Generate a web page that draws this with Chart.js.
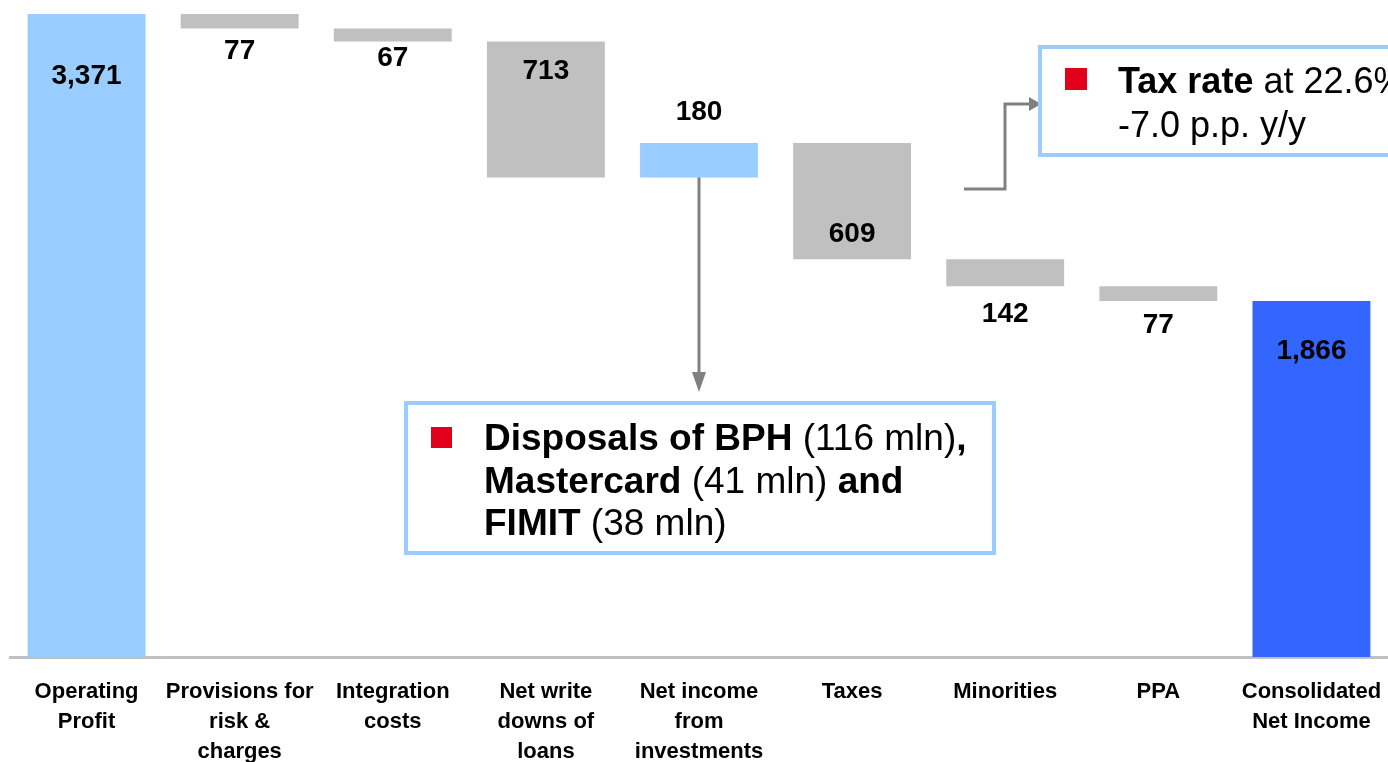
<!DOCTYPE html>
<html>
<head>
<meta charset="utf-8">
<title>Net income bridge</title>
<script src="https://cdn.jsdelivr.net/npm/chart.js@4.4.1/dist/chart.umd.min.js"></script>
<style>
  html, body { margin: 0; padding: 0; background: #ffffff; }
  #wrap { width: 1388px; height: 762px; position: relative; }
</style>
</head>
<body>
<div id="wrap"><canvas id="bridge"></canvas></div>
<script>
// Bridge from operating profit to consolidated net income (mln)
const categories = [
    ['Operating', 'Profit'],
    ['Provisions for', 'risk &', 'charges'],
    ['Integration', 'costs'],
    ['Net write', 'downs of', 'loans'],
    ['Net income', 'from', 'investments'],
    ['Taxes'],
    ['Minorities'],
    ['PPA'],
    ['Consolidated', 'Net Income']
];
// totals are absolute levels, the other entries are steps
const amounts = [3371, -77, -67, -713, 180, -609, -142, -77, 1866];
const isTotal = [true, false, false, false, false, false, false, false, true];

const FONT = '"Liberation Sans", Arial, Helvetica, sans-serif';
const LIGHT_BLUE = '#99ccff';
const DARK_BLUE = '#3366ff';
const GREY = '#c0c0c0';
const RED = '#e2001a';
const ARROW = '#808080';

// floating ranges for the waterfall
let level = 0;
const ranges = amounts.map((v, i) => {
    if (isTotal[i]) {
        level = v;
        return [0, v];
    }
    const from = level;
    level += v;
    return [from, level];
});

const colours = amounts.map((v, i) => {
    if (i === amounts.length - 1) return DARK_BLUE;
    if (isTotal[i] || v > 0) return LIGHT_BLUE;
    return GREY;
});

// where each value label sits: relative to bar top or bottom, shift in px
const labelEdge = ['top', 'bottom', 'bottom', 'top', 'top', 'bottom', 'bottom', 'bottom', 'top'];
const labelShift = [62, 23, 17, 30, -31, -25, 28, 24, 50];

const valueLabels = {
    id: 'valueLabels',
    afterDatasetsDraw(chart) {
        const ctx = chart.ctx;
        const bars = chart.getDatasetMeta(0).data;
        ctx.save();
        ctx.font = 'bold 28px ' + FONT;
        ctx.fillStyle = '#000';
        ctx.textAlign = 'center';
        ctx.textBaseline = 'middle';
        bars.forEach((bar, i) => {
            const top = Math.min(bar.y, bar.base);
            const bottom = Math.max(bar.y, bar.base);
            const y = (labelEdge[i] === 'top' ? top : bottom) + labelShift[i];
            ctx.fillText(Math.abs(amounts[i]).toLocaleString('en-US'), bar.x, y);
        });
        ctx.restore();
    }
};

function drawRuns(ctx, runs, x, y, size) {
    runs.forEach(([text, bold]) => {
        ctx.font = (bold ? 'bold ' : '') + size + 'px ' + FONT;
        ctx.fillText(text, x, y);
        x += ctx.measureText(text).width;
    });
}

function arrowHead(ctx, x, y, dir) {
    ctx.beginPath();
    if (dir === 'down') {
        ctx.moveTo(x, y);
        ctx.lineTo(x - 7, y - 20);
        ctx.lineTo(x + 7, y - 20);
    } else {
        ctx.moveTo(x, y);
        ctx.lineTo(x - 12, y - 7);
        ctx.lineTo(x - 12, y + 7);
    }
    ctx.closePath();
    ctx.fill();
}

function noteBox(ctx, x, y, w, h) {
    ctx.fillStyle = '#fff';
    ctx.fillRect(x, y, w, h);
    ctx.strokeStyle = LIGHT_BLUE;
    ctx.lineWidth = 4;
    ctx.strokeRect(x, y, w, h);
}

const notes = {
    id: 'notes',
    afterDraw(chart) {
        const ctx = chart.ctx;
        const bars = chart.getDatasetMeta(0).data;
        ctx.save();

        // arrow from investments bar down to the disposals note
        const inv = bars[4];
        const invBottom = Math.max(inv.y, inv.base);
        ctx.strokeStyle = ARROW;
        ctx.fillStyle = ARROW;
        ctx.lineWidth = 3;
        ctx.beginPath();
        ctx.moveTo(inv.x, invBottom);
        ctx.lineTo(inv.x, 375);
        ctx.stroke();
        arrowHead(ctx, inv.x, 392, 'down');

        // elbow arrow from taxes to the tax rate note
        ctx.beginPath();
        ctx.moveTo(964, 189);
        ctx.lineTo(1005, 189);
        ctx.lineTo(1005, 104);
        ctx.lineTo(1030, 104);
        ctx.stroke();
        arrowHead(ctx, 1041, 104, 'right');

        // disposals note
        noteBox(ctx, 406, 403, 588, 150);
        ctx.fillStyle = RED;
        ctx.fillRect(431, 427, 21, 21);
        ctx.fillStyle = '#000';
        ctx.textAlign = 'left';
        ctx.textBaseline = 'alphabetic';
        drawRuns(ctx, [['Disposals of BPH', true], [' (116 mln)', false], [',', true]], 484, 450, 37);
        drawRuns(ctx, [['Mastercard', true], [' (41 mln) ', false], ['and', true]], 484, 493, 37);
        drawRuns(ctx, [['FIMIT', true], [' (38 mln)', false]], 484, 535, 37);

        // tax rate note
        noteBox(ctx, 1040, 47, 420, 108);
        ctx.fillStyle = RED;
        ctx.fillRect(1065, 68, 22, 22);
        ctx.fillStyle = '#000';
        drawRuns(ctx, [['Tax rate', true], [' at 22.6%', false]], 1118, 93, 36);
        drawRuns(ctx, [['-7.0 p.p. y/y', false]], 1118, 137, 36);

        ctx.restore();
    }
};

new Chart(document.getElementById('bridge'), {
    type: 'bar',
    data: {
        labels: categories,
        datasets: [{
            data: ranges,
            backgroundColor: colours,
            borderWidth: 0,
            borderSkipped: false,
            barPercentage: 0.77,
            categoryPercentage: 1
        }]
    },
    options: {
        responsive: true,
        maintainAspectRatio: false,
        animation: false,
        layout: { padding: { left: 10, right: 0, top: 0, bottom: 0 } },
        plugins: {
            legend: { display: false },
            tooltip: { enabled: false }
        },
        scales: {
            x: {
                grid: { display: false, drawTicks: false },
                border: { display: true, color: '#c0c0c0', width: 3 },
                ticks: {
                    color: '#000',
                    padding: 20,
                    maxRotation: 0,
                    autoSkip: false,
                    font: { family: FONT, size: 22, weight: 'bold', lineHeight: '30px' }
                },
                // fixed label band, and let the last bar run to the right edge
                afterFit(scale) {
                    scale.height = 105;
                    scale.paddingLeft = 0;
                    scale.paddingRight = 0;
                }
            },
            y: {
                display: false,
                min: 0,
                max: 3444
            }
        }
    },
    plugins: [valueLabels, notes]
});
</script>
</body>
</html>
